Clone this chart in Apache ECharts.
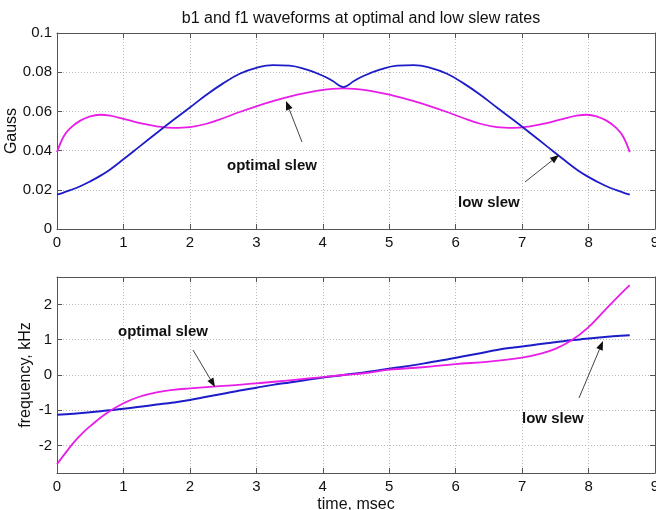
<!DOCTYPE html>
<html><head><meta charset="utf-8">
<script src="https://cdn.jsdelivr.net/npm/echarts@6/dist/echarts.min.js"></script>
<style>html,body{margin:0;padding:0;background:#fff}#c{width:656px;height:510px}</style>
</head><body><div id="c"></div>
<script>
// ---- data ----
const titleText = 'b1 and f1 waveforms at optimal and low slew rates';
const xTicks = [0,1,2,3,4,5,6,7,8,9];
const topYTicks = [0,0.02,0.04,0.06,0.08,0.1];
const botYTicks = [-2,-1,0,1,2];

// top panel (Gauss)
const tTop = [0,0.1,0.2,0.35,0.5,0.65,0.8,1,1.25,1.5,1.75,2,2.25,2.5,2.75,3,3.25,3.5,3.75,4,4.15,4.31,4.47,4.62,4.87,5.12,5.37,5.62,5.87,6.12,6.37,6.62,6.87,7.12,7.37,7.62,7.82,7.97,8.12,8.27,8.42,8.52,8.62];
const b1Low = [0.0175,0.0186,0.0198,0.0218,0.0243,0.0271,0.0304,0.0356,0.0423,0.049,0.0556,0.062,0.0685,0.0743,0.0792,0.0822,0.0836,0.0834,0.0814,0.0782,0.0755,0.0724,0.0755,0.0782,0.0814,0.0834,0.0836,0.0822,0.0792,0.0743,0.0685,0.062,0.0556,0.049,0.0423,0.0356,0.0304,0.0271,0.0243,0.0218,0.0198,0.0186,0.0175];
const b1Opt = [0.0392,0.0472,0.0515,0.0553,0.0575,0.0583,0.0578,0.0562,0.054,0.0524,0.0516,0.052,0.0537,0.0565,0.0597,0.0626,0.0652,0.0676,0.0695,0.071,0.0715,0.0717,0.0715,0.071,0.0695,0.0676,0.0652,0.0626,0.0597,0.0565,0.0537,0.052,0.0516,0.0524,0.054,0.0562,0.0578,0.0583,0.0575,0.0553,0.0515,0.0472,0.0392];

// bottom panel (kHz)
const tBotLow = [0,0.25,0.5,0.75,1,1.25,1.5,1.75,2,2.25,2.5,2.75,3,3.25,3.5,3.75,4,4.31,4.62,4.87,5.12,5.37,5.62,5.87,6.12,6.37,6.62,6.87,7.12,7.37,7.62,7.87,8.12,8.37,8.62];
const f1Low = [-1.13,-1.1,-1.06,-1.01,-0.96,-0.9,-0.84,-0.78,-0.71,-0.62,-0.53,-0.44,-0.36,-0.28,-0.21,-0.14,-0.07,0,0.07,0.14,0.21,0.28,0.36,0.44,0.53,0.62,0.71,0.78,0.84,0.9,0.96,1.01,1.06,1.1,1.13];
const tBotOpt = [0,0.1,0.25,0.4,0.5,0.75,1,1.25,1.5,1.75,2,2.5,3,3.5,4,4.31,4.62,5,5.5,6,6.5,7,7.25,7.5,7.75,8,8.25,8.5,8.62];
const f1Opt = [-2.53,-2.28,-1.92,-1.62,-1.45,-1.08,-0.8,-0.61,-0.49,-0.42,-0.38,-0.31,-0.24,-0.15,-0.06,0,0.05,0.15,0.22,0.31,0.38,0.49,0.59,0.74,0.99,1.36,1.85,2.33,2.55];

const annTexts = ['optimal slew','low slew','optimal slew','low slew'];

// ---- chart ----
const BLUE = '#1c1cc8', MAG = '#e81ee8', FRAME = '#555', GRIDC = '#b8b8b8';
const FONT = 'Liberation Sans, Arial, sans-serif';
const pair = (ts, vs) => ts.map((t, i) => [t, vs[i]]);

function xAx(gi, pos, labels, name) {
  return {
    type: 'value', gridIndex: gi, position: pos, min: xTicks[0], max: xTicks[xTicks.length - 1], interval: 1,
    axisLine: {show: true, onZero: false, lineStyle: {color: FRAME, width: 1}},
    axisTick: {show: true, inside: true, length: 5, lineStyle: {color: FRAME}},
    axisLabel: {show: labels, color: '#111', fontSize: 15, fontFamily: FONT, margin: 6},
    splitLine: {show: labels, lineStyle: {color: GRIDC, type: [1, 2], width: 1}},
    name: name || '', nameLocation: 'middle', nameGap: 24, nameMoveOverlap: false,
    nameTextStyle: {fontSize: 16, color: '#111', fontFamily: FONT}
  };
}
function yAx(gi, pos, labels, opts) {
  return Object.assign({
    type: 'value', gridIndex: gi, position: pos,
    axisLine: {show: true, onZero: false, lineStyle: {color: FRAME, width: 1}},
    axisTick: {show: true, inside: true, length: 5, lineStyle: {color: FRAME}},
    axisLabel: {show: labels, color: '#111', fontSize: 15, fontFamily: FONT, margin: 5},
    splitLine: {show: labels, lineStyle: {color: GRIDC, type: [1, 2], width: 1}},
    nameLocation: 'middle', nameMoveOverlap: false,
    nameTextStyle: {fontSize: 16, color: '#111', fontFamily: FONT}
  }, opts);
}
const intFmt = v => Math.abs(v - Math.round(v)) < 1e-6 ? String(Math.round(v)) : '';

const topY = {min: topYTicks[0], max: topYTicks[topYTicks.length - 1], interval: 0.02};
const botY = {min: -2.78, max: 2.78, minInterval: 1, maxInterval: 1};

function arrow(x1, y1, x2, y2) {
  const ang = Math.atan2(y2 - y1, x2 - x1), L = 9, W = 3.5;
  const bx = x2 - L * Math.cos(ang), by = y2 - L * Math.sin(ang);
  const px = -Math.sin(ang) * W, py = Math.cos(ang) * W;
  return [
    {type: 'line', shape: {x1: x1, y1: y1, x2: bx, y2: by}, style: {stroke: '#444', lineWidth: 1}, z: 100},
    {type: 'polygon', shape: {points: [[x2, y2], [bx + px, by + py], [bx - px, by - py]]}, style: {fill: '#111'}, z: 100}
  ];
}
function label(txt, x, y) {
  return {type: 'text', x: x, y: y, style: {text: txt, font: 'bold 15px ' + FONT, fill: '#111', textAlign: 'left', textVerticalAlign: 'middle'}, z: 100};
}

const chart = echarts.init(document.getElementById('c'), null, {renderer: 'canvas'});
chart.setOption({
  animation: false,
  backgroundColor: '#fff',
  title: {text: titleText, left: 356, top: 6, textAlign: 'center',
    textStyle: {fontSize: 16, fontWeight: 'normal', color: '#111', fontFamily: FONT}},
  grid: [
    {left: 57, right: 1, top: 33, height: 196, containLabel: false, outerBoundsMode: 'none'},
    {left: 57, right: 1, top: 277, height: 196, containLabel: false, outerBoundsMode: 'none'}
  ],
  xAxis: [
    xAx(0, 'bottom', true), xAx(0, 'top', false),
    xAx(1, 'bottom', true, 'time, msec'), xAx(1, 'top', false)
  ],
  yAxis: [
    yAx(0, 'left', true, Object.assign({name: 'Gauss', nameGap: 37}, topY)),
    yAx(0, 'right', false, Object.assign({}, topY)),
    yAx(1, 'left', true, Object.assign({name: 'frequency, kHz', nameGap: 23, axisLabel: {show: true, color: '#111', fontSize: 15, fontFamily: FONT, margin: 5, formatter: intFmt}}, botY)),
    yAx(1, 'right', false, Object.assign({}, botY))
  ],
  series: [
    {type: 'line', xAxisIndex: 0, yAxisIndex: 0, data: pair(tTop, b1Opt), showSymbol: false, smooth: 0.4, lineStyle: {color: MAG, width: 1.8}, z: 3},
    {type: 'line', xAxisIndex: 0, yAxisIndex: 0, data: pair(tTop, b1Low), showSymbol: false, smooth: 0.4, lineStyle: {color: BLUE, width: 1.8}, z: 4},
    {type: 'line', xAxisIndex: 2, yAxisIndex: 2, data: pair(tBotLow, f1Low), showSymbol: false, smooth: 0.4, lineStyle: {color: BLUE, width: 2}, z: 3},
    {type: 'line', xAxisIndex: 2, yAxisIndex: 2, data: pair(tBotOpt, f1Opt), showSymbol: false, smooth: 0.4, lineStyle: {color: MAG, width: 1.8}, z: 4}
  ],
  graphic: [
    label(annTexts[0], 227, 166), ...arrow(302, 142, 286, 101),
    label(annTexts[1], 458, 203), ...arrow(525, 182, 559, 155),
    label(annTexts[2], 118, 332), ...arrow(193, 350, 215, 387),
    label(annTexts[3], 522, 419), ...arrow(579, 398, 603, 341)
  ]
});
</script></body></html>
